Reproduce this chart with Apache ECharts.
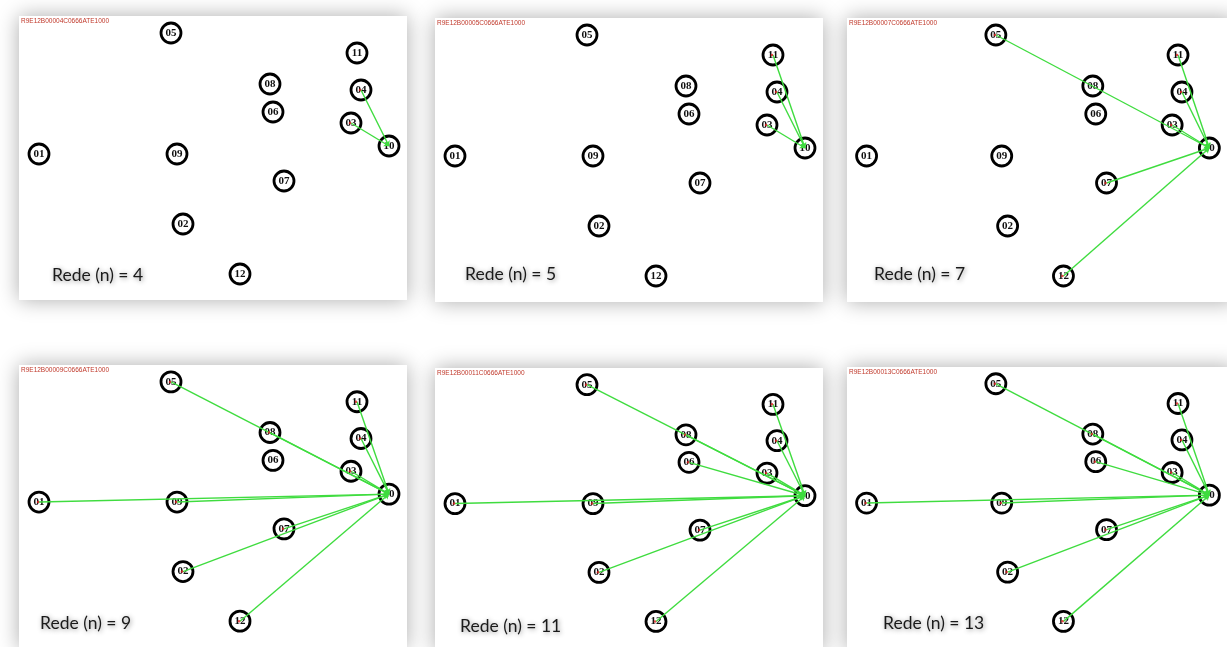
<!DOCTYPE html>
<html>
<head>
<meta charset="utf-8">
<script src="https://cdn.jsdelivr.net/npm/echarts@6/dist/echarts.min.js"></script>
<style>html,body{margin:0;padding:0;background:#fff;}#c{width:1227px;height:647px;}</style>
</head>
<body>
<div id="c"></div>
<script>
// ---- data ----
var nodeNames = ['01','02','03','04','05','06','07','08','09','10','11','12'];
var nodeX = [20, 164, 332, 342, 152, 254, 265, 251, 158, 370, 338, 221];
var nodeY = [138, 208, 107, 74, 17, 96, 165, 68, 138, 130, 37, 258];
var hubNode = '10';
var panelTitles = ['R9E12B00004C0666ATE1000','R9E12B00005C0666ATE1000','R9E12B00007C0666ATE1000',
                   'R9E12B00009C0666ATE1000','R9E12B00011C0666ATE1000','R9E12B00013C0666ATE1000'];
var panelN = [4, 5, 7, 9, 11, 13];
var edgesN4  = ['04','03'];
var edgesN5  = ['11','04','03'];
var edgesN7  = ['05','11','04','03','07','12'];
var edgesN9  = ['05','08','11','04','03','01','09','07','02','12'];
var edgesN11 = ['05','08','06','11','04','03','01','09','07','02','12'];
var edgesN13 = ['05','08','06','11','04','03','01','09','07','02','12'];
var panelEdges = [edgesN4, edgesN5, edgesN7, edgesN9, edgesN11, edgesN13];

// ---- layout ----
var panelW = 388, panelH = 284;
var panelPos = [[19,16],[435,18],[847,18],[19,365],[435,368],[847,367]];
var labelPos = [[33,261],[30,258],[27,258],[21,260],[25,260],[36,258]];

function idx(n){ return nodeNames.indexOf(n); }
var hx = nodeX[idx(hubNode)], hy = nodeY[idx(hubNode)];

var grids=[], xAxes=[], yAxes=[], series=[], graphics=[];
panelPos.forEach(function(p, i){
  grids.push({left:p[0], top:p[1], width:panelW, height:panelH, containLabel:false});
  xAxes.push({gridIndex:i, type:'value', min:0, max:panelW, show:false});
  yAxes.push({gridIndex:i, type:'value', min:0, max:panelH, inverse:true, show:false});
  graphics.push({type:'rect', z:0, shape:{x:p[0], y:p[1], width:panelW, height:panelH},
    style:{fill:'#fff', shadowBlur:20, shadowColor:'rgba(0,0,0,0.33)', shadowOffsetX:0, shadowOffsetY:0}});
  graphics.push({type:'text', z:50, left:p[0]+2, top:p[1]+2,
    style:{text:panelTitles[i], fill:'#c0392b', font:'6.5px "Liberation Sans"'}});
  graphics.push({type:'text', z:50, left:p[0]+labelPos[i][0], top:p[1]+labelPos[i][1]-11,
    style:{text:'Rede (n) = '+panelN[i], fill:'#1a1a1a', font:'17.5px Lato',
      textShadowColor:'rgba(0,0,0,0.45)', textShadowBlur:5, textShadowOffsetX:1, textShadowOffsetY:1}});

  var nodes = nodeNames.map(function(n,k){ return {name:n, value:[nodeX[k], nodeY[k]]}; });
  series.push({type:'scatter', xAxisIndex:i, yAxisIndex:i, z:2, silent:true,
    symbol:'circle', symbolSize:20, data:nodes,
    itemStyle:{color:'#fff', borderColor:'#000', borderWidth:2.8, opacity:1},
    label:{show:true, position:'inside', formatter:'{b}', color:'#111',
      fontFamily:'Liberation Serif', fontWeight:'bold', fontSize:11}});
  var lines = panelEdges[i].map(function(s){ var k=idx(s); return {coords:[[nodeX[k],nodeY[k]],[hx,hy]]}; });
  series.push({type:'lines', coordinateSystem:'cartesian2d', xAxisIndex:i, yAxisIndex:i, z:4, silent:true,
    symbol:['none','arrow'], symbolSize:5, data:lines,
    lineStyle:{color:'#3fdc3f', width:1.4, opacity:1}});
  var dots = panelEdges[i].map(function(s){ var k=idx(s); return [nodeX[k]-1, nodeY[k]]; });
  series.push({type:'scatter', xAxisIndex:i, yAxisIndex:i, z:5, silent:true,
    symbol:'circle', symbolSize:2.5, data:dots, itemStyle:{color:'#e02020'}});
});

var chart = echarts.init(document.getElementById('c'), null, {renderer:'canvas'});
chart.setOption({
  animation:false,
  backgroundColor:'#fff',
  grid:grids, xAxis:xAxes, yAxis:yAxes, series:series,
  graphic:{elements:graphics}
});
</script>
</body>
</html>
